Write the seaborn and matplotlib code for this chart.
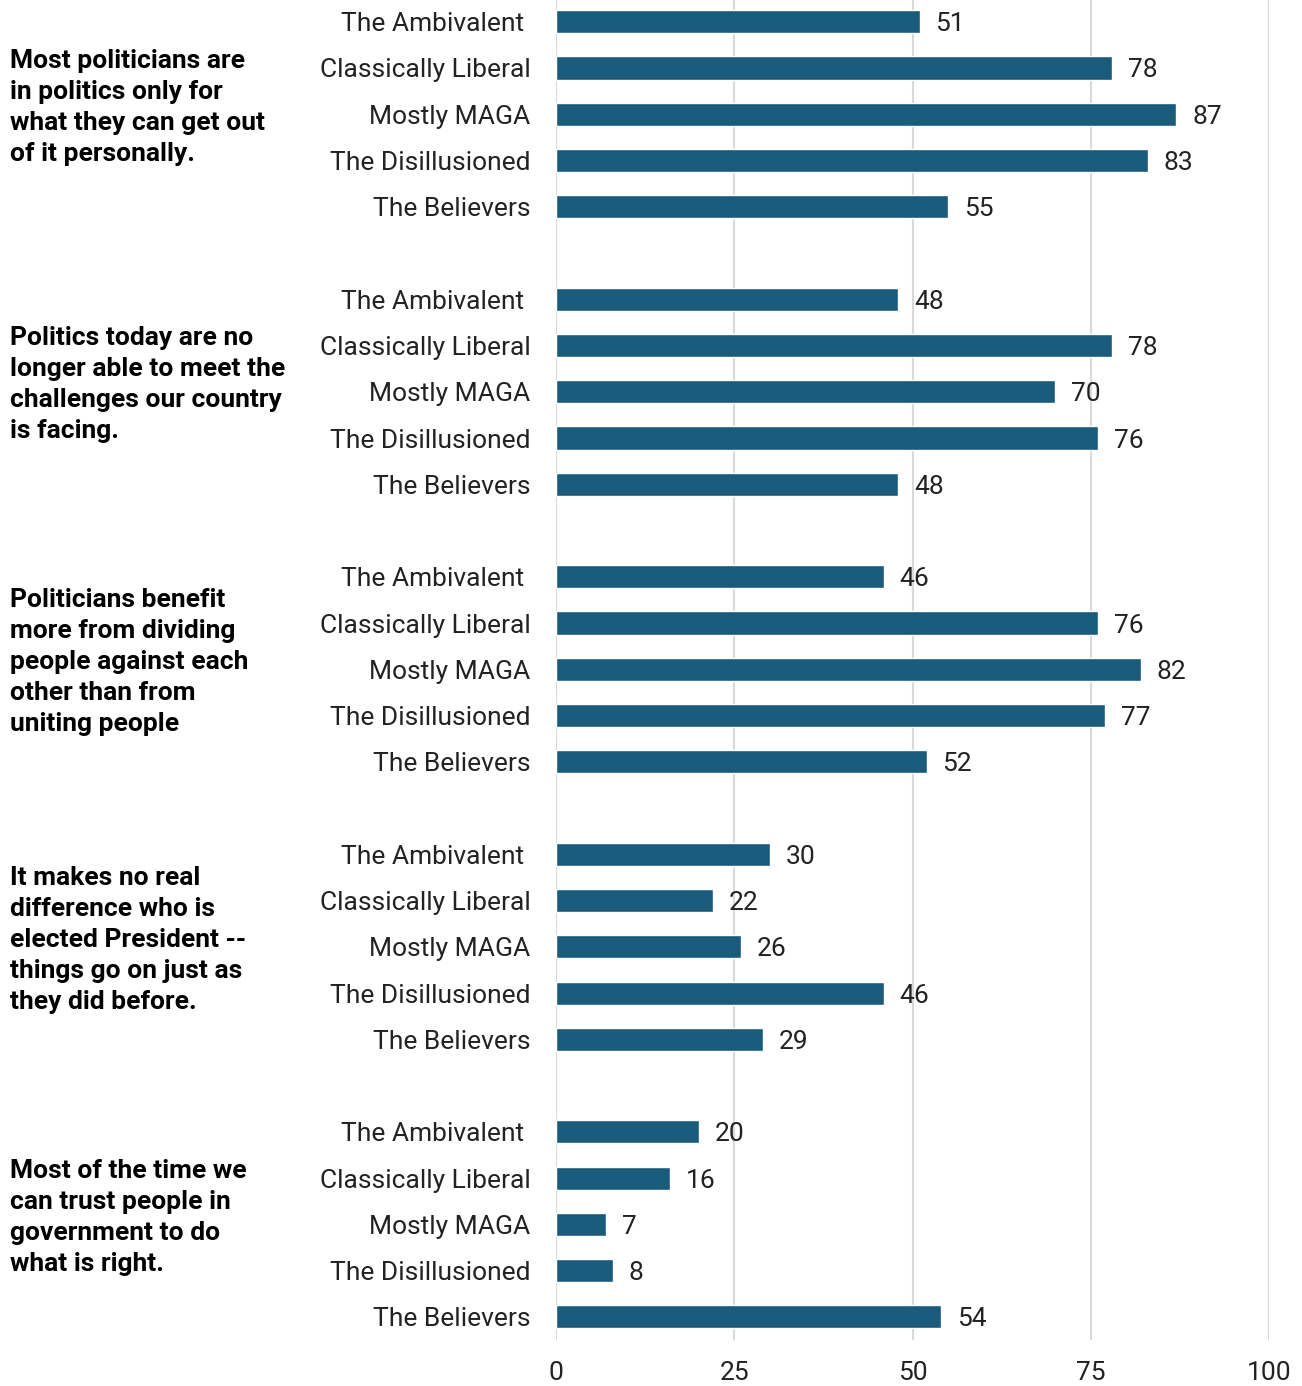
import numpy as np
import pandas as pd
import matplotlib
matplotlib.use('Agg')
import matplotlib.pyplot as plt
import seaborn as sns

# statements (left column) and segments (tick labels)
statements = [
    'Most politicians are\nin politics only for\nwhat they can get out\nof it personally.',
    'Politics today are no\nlonger able to meet the\nchallenges our country\nis facing.',
    'Politicians benefit\nmore from dividing\npeople against each\nother than from\nuniting people',
    'It makes no real\ndifference who is\nelected President --\nthings go on just as\nthey did before.',
    'Most of the time we\ncan trust people in\ngovernment to do\nwhat is right.',
]
segments = ['The Ambivalent ', 'Classically Liberal', 'Mostly MAGA',
            'The Disillusioned', 'The Believers']

# percent agreeing, one list per statement, in segment order
vals_politicians_personal = [51, 78, 87, 83, 55]
vals_cant_meet_challenges = [48, 78, 70, 76, 48]
vals_dividing_people = [46, 76, 82, 77, 52]
vals_no_difference = [30, 22, 26, 46, 29]
vals_trust_government = [20, 16, 7, 8, 54]

all_vals = [vals_politicians_personal, vals_cant_meet_challenges,
            vals_dividing_people, vals_no_difference, vals_trust_government]

# build long table, one empty slot between statement groups
rows = []
for g, vals in enumerate(all_vals):
    for i, (seg, v) in enumerate(zip(segments, vals)):
        rows.append({'statement': g, 'segment': seg, 'value': v, 'pos': g * 6 + i})
df = pd.DataFrame(rows)

sns.set_style('white')
plt.rcParams['font.family'] = ['Roboto', 'DejaVu Sans']

fig = plt.figure(figsize=(13.02, 13.86), dpi=100)
ax = fig.add_axes([0.427, 0.0332, 0.5477, 0.9668])

bar_color = '#1a5b7b'
sns.barplot(data=df, x='value', y='pos', orient='h', native_scale=True,
            width=0.5, color=bar_color, saturation=1, ax=ax, errorbar=None)

ax.set_xlim(0, 100)
ax.set_ylim(28.5, -0.47)
ax.set_xticks([0, 25, 50, 75, 100])
ax.grid(axis='x', color='#d9d9d9', linewidth=1.5)
ax.grid(axis='y', visible=False)
ax.set_axisbelow(True)
for s in ax.spines.values():
    s.set_visible(False)
ax.tick_params(axis='x', length=0, labelsize=19, pad=15, colors='#222222')
ax.tick_params(axis='y', length=0, labelsize=19, pad=18.5, colors='#222222')
ax.set_yticks(df['pos'])
ax.set_yticklabels(df['segment'])
ax.set_xlabel('')
ax.set_ylabel('')

# value labels
for _, r in df.iterrows():
    ax.text(r['value'] + 2.2, r['pos'], f"{r['value']}", va='center_baseline', ha='left',
            fontsize=19, color='#222222')

# statement text on the left
for g, text in enumerate(statements):
    ax.text(-0.765, g * 6 + 1.85, text, transform=ax.get_yaxis_transform(),
            ha='left', va='center', fontsize=19, fontweight='bold',
            color='#000000', linespacing=1.37)

fig.savefig('out.png', dpi=100)
